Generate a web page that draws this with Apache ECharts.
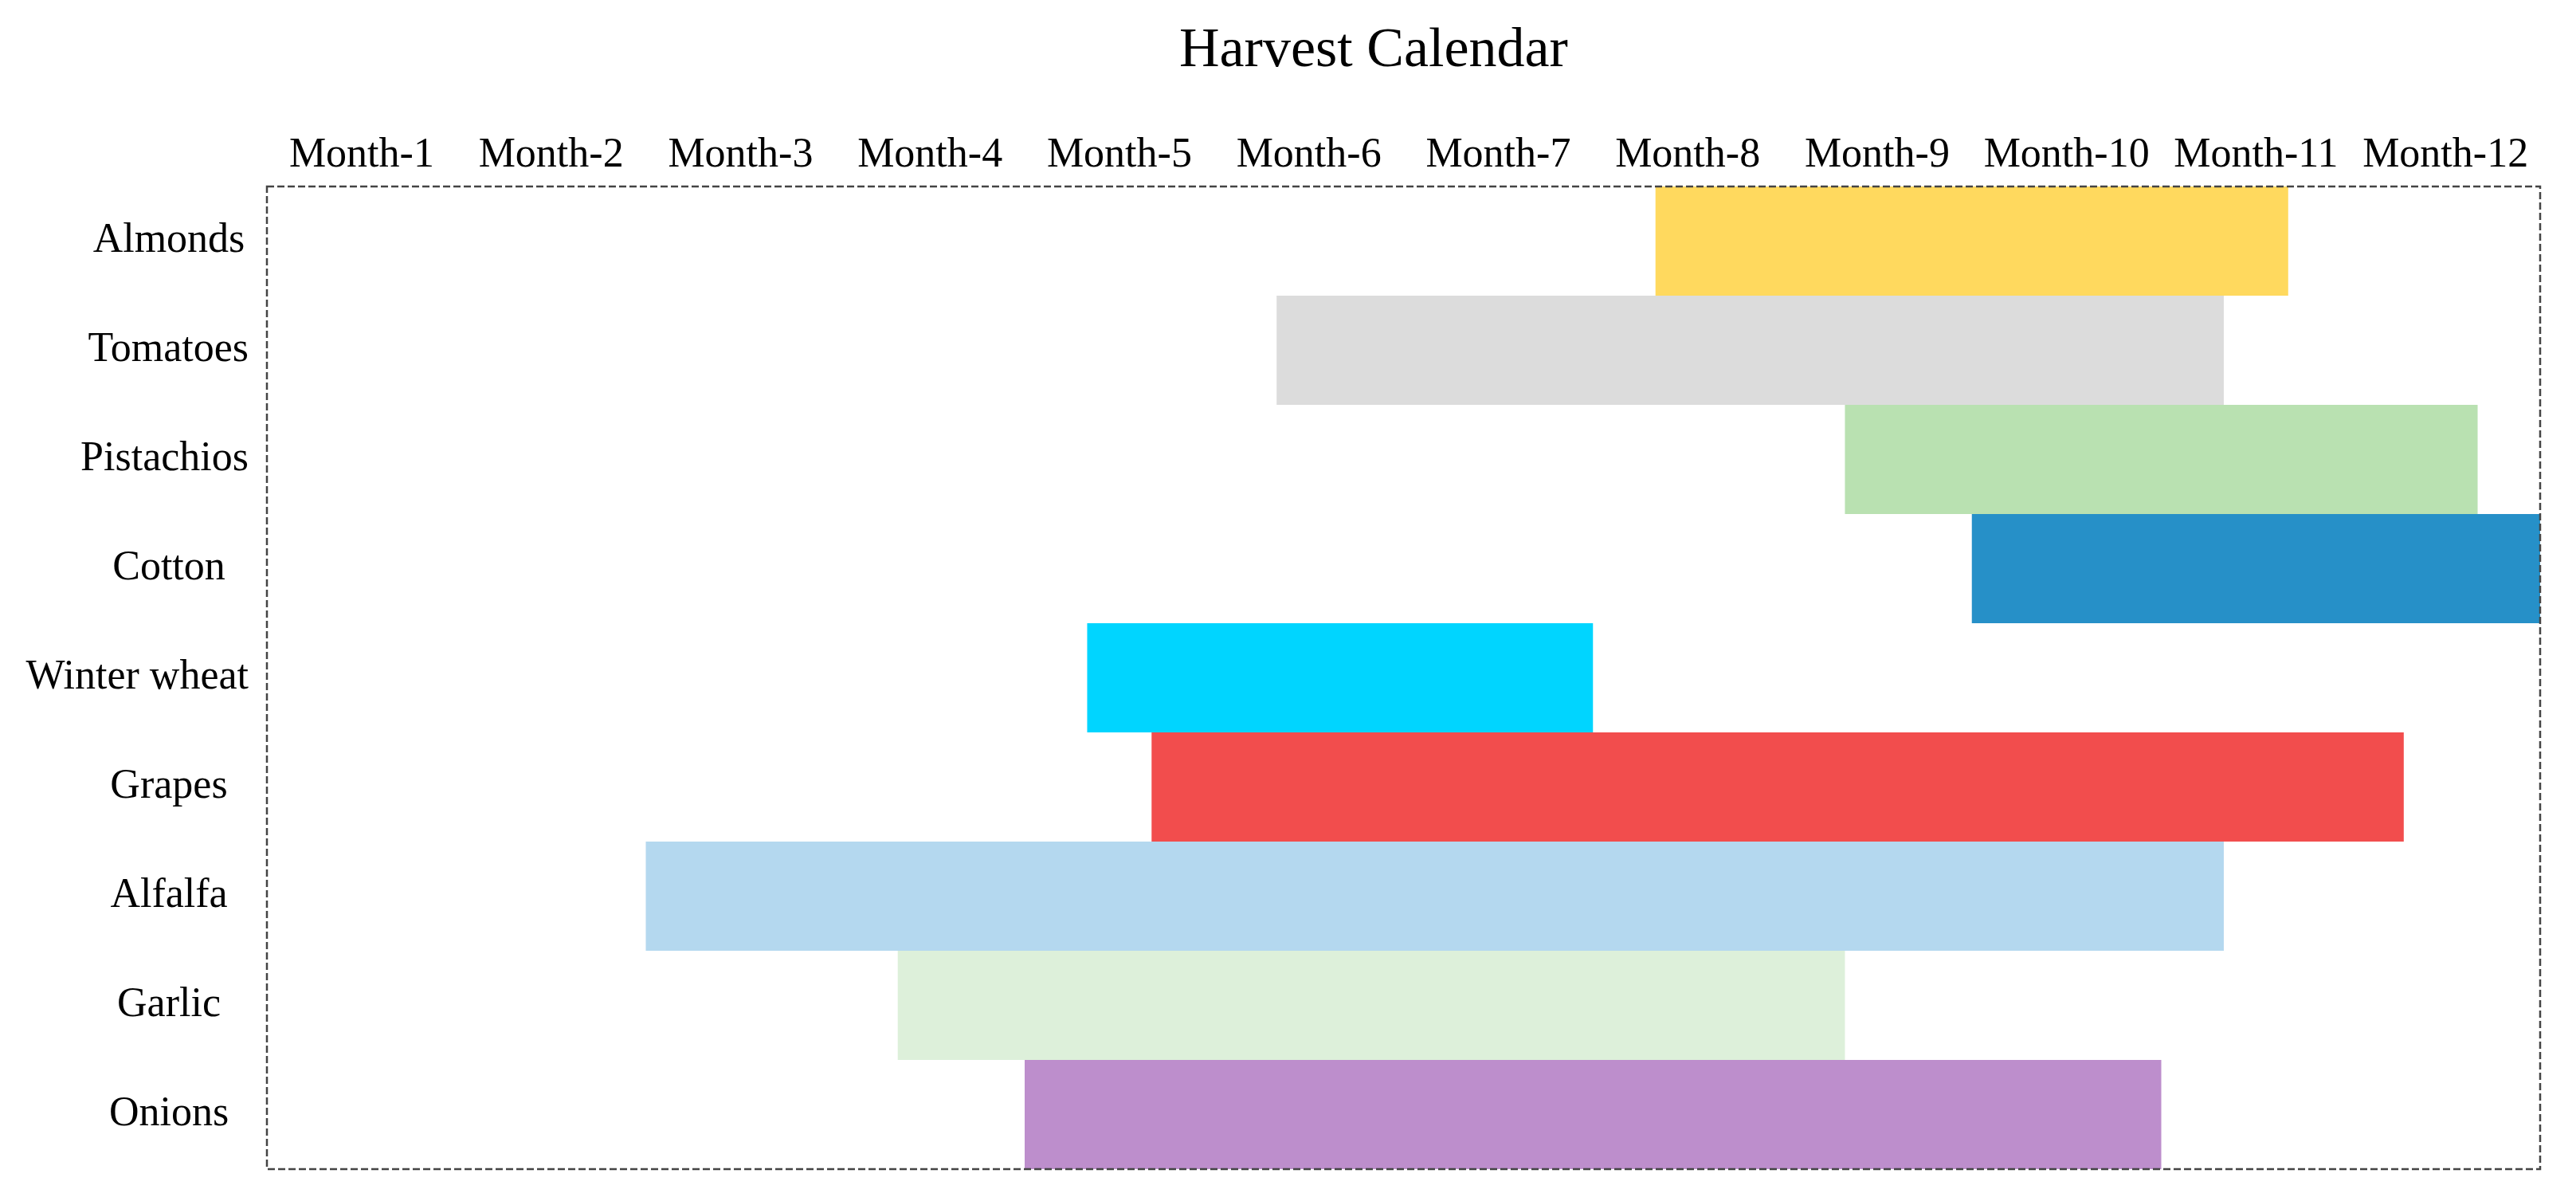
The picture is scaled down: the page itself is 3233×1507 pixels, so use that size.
<!DOCTYPE html>
<html>
<head>
<meta charset="utf-8">
<script src="https://cdn.jsdelivr.net/npm/echarts@6/dist/echarts.min.js"></script>
<style>
html,body{margin:0;padding:0;background:#ffffff;}
#c{width:3233px;height:1507px;}
</style>
</head>
<body>
<div id="c"></div>
<script>
// ---- data ----
const crops = ['Almonds', 'Tomatoes', 'Pistachios', 'Cotton', 'Winter wheat', 'Grapes', 'Alfalfa', 'Garlic', 'Onions'];
const months = ['Month-1', 'Month-2', 'Month-3', 'Month-4', 'Month-5', 'Month-6', 'Month-7', 'Month-8', 'Month-9', 'Month-10', 'Month-11', 'Month-12'];
// harvest window in months from the start of Month-1
const startMonth = [7.33, 5.33, 8.33, 9.0, 4.33, 4.67, 2.0, 3.33, 4.0];
const endMonth   = [10.67, 10.33, 11.67, 12.0, 7.0, 11.28, 10.33, 8.33, 10.0];
const cropColors = ['#FFD95E', '#DCDCDC', '#B9E1B1', '#2690C8', '#00D5FF', '#F24D4D', '#B4D8EF', '#DDF0DA', '#BD8ECC'];

// ---- chart ----
const FONT = '"Liberation Serif", "Times New Roman", serif';
const measure = document.createElement('canvas').getContext('2d');
measure.font = '52px ' + FONT;
const LABEL_BOX = 200;

const chart = echarts.init(document.getElementById('c'), null, { renderer: 'canvas' });

chart.setOption({
  backgroundColor: '#ffffff',
  animation: false,
  title: {
    text: 'Harvest Calendar',
    left: 1480,
    top: 30,
    padding: 0,
    textStyle: { fontFamily: FONT, fontSize: 70, fontWeight: 'normal', color: '#000' }
  },
  grid: {
    left: 335, right: 45, top: 234, bottom: 40,
    show: true,
    z: 10,
    backgroundColor: 'transparent',
    borderColor: '#444',
    borderWidth: 2.5,
    borderType: [9, 4]
  },
  xAxis: [
    {
      type: 'category',
      position: 'top',
      data: months,
      boundaryGap: true,
      axisLine: { show: false },
      axisTick: { show: false },
      splitLine: { show: false },
      axisLabel: { fontFamily: FONT, fontSize: 52, color: '#000', margin: 13, interval: 0 }
    },
    {
      type: 'value',
      position: 'bottom',
      min: 0, max: 12, interval: 1,
      show: false,
      splitLine: { show: false }
    }
  ],
  yAxis: {
    type: 'category',
    data: crops,
    inverse: true,
    axisLine: { show: false },
    axisTick: { show: false },
    splitLine: { show: false },
    axisLabel: {
      margin: 23,
      interval: 0,
      formatter: function (v) {
        return measure.measureText(v).width <= LABEL_BOX ? '{c|' + v + '}' : '{r|' + v + '}';
      },
      rich: {
        c: { width: LABEL_BOX, align: 'center', fontFamily: FONT, fontSize: 52, color: '#000' },
        r: { fontFamily: FONT, fontSize: 52, color: '#000' }
      }
    }
  },
  series: [
    {
      name: 'offset',
      type: 'bar',
      xAxisIndex: 1,
      stack: 'harvest',
      barWidth: '100%',
      barCategoryGap: '0%',
      silent: true,
      itemStyle: { color: 'transparent' },
      data: startMonth
    },
    {
      name: 'harvest',
      type: 'bar',
      xAxisIndex: 1,
      stack: 'harvest',
      barWidth: '100%',
      barCategoryGap: '0%',
      data: endMonth.map((e, i) => ({
        value: +(e - startMonth[i]).toFixed(2),
        itemStyle: { color: cropColors[i] }
      }))
    }
  ]
});
</script>
</body>
</html>
